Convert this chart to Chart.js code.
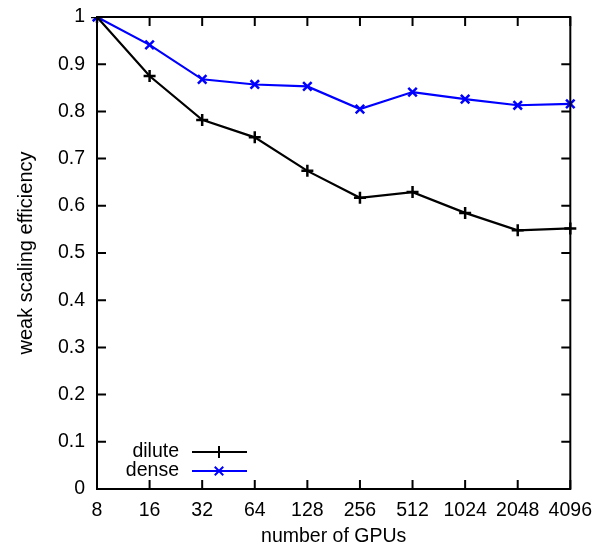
<!DOCTYPE html>
<html>
<head>
<meta charset="utf-8">
<script src="https://cdn.jsdelivr.net/npm/chart.js@4"></script>
<style>
  body { margin: 0; background: #fff; }
  #wrap { width: 594px; height: 546px; }
</style>
</head>
<body>
<div id="wrap"><canvas id="c" width="594" height="546"></canvas></div>
<script>
const gpus = ["8", "16", "32", "64", "128", "256", "512", "1024", "2048", "4096"];
const dilute = [1.0, 0.875, 0.782, 0.745, 0.674, 0.617, 0.629, 0.585, 0.548, 0.552];
const dense = [1.0, 0.941, 0.868, 0.857, 0.853, 0.805, 0.841, 0.826, 0.813, 0.816];

const FONT = "'Liberation Sans', Arial, sans-serif";
const FS = 19.5;

// gnuplot style: box around plot, ticks pointing inward on all sides
const frame = {
  id: "frame",
  afterDraw(c) {
    const ctx = c.ctx, a = c.chartArea;
    const xs = c.scales.x, ys = c.scales.y;
    const len = 9;
    ctx.save();
    ctx.strokeStyle = "#000";
    ctx.lineWidth = 2;
    ctx.strokeRect(a.left, a.top, a.right - a.left, a.bottom - a.top);
    ctx.beginPath();
    ys.ticks.forEach(t => {
      const y = ys.getPixelForValue(t.value);
      ctx.moveTo(a.left, y); ctx.lineTo(a.left + len, y);
      ctx.moveTo(a.right, y); ctx.lineTo(a.right - len, y);
    });
    gpus.forEach((g, i) => {
      const x = xs.getPixelForValue(i);
      ctx.moveTo(x, a.bottom); ctx.lineTo(x, a.bottom - len);
      ctx.moveTo(x, a.top); ctx.lineTo(x, a.top + len);
    });
    ctx.stroke();
    ctx.restore();
  }
};

// key in the lower left, text right-aligned before the sample line
const key = {
  id: "key",
  afterDraw(c) {
    const ctx = c.ctx;
    const textRight = 179, x0 = 192, x1 = 247, xm = 219;
    const rows = [452, 471];
    ctx.save();
    ctx.font = FS + "px " + FONT;
    ctx.textAlign = "right";
    ctx.textBaseline = "middle";
    c.data.datasets.forEach((ds, i) => {
      const y = rows[i];
      ctx.fillStyle = "#000";
      ctx.fillText(ds.label, textRight, y);
      ctx.strokeStyle = ds.borderColor;
      ctx.lineWidth = 2;
      ctx.beginPath();
      ctx.moveTo(x0, y); ctx.lineTo(x1, y);
      ctx.stroke();
      Chart.helpers.drawPoint(ctx, {
        pointStyle: ds.pointStyle, radius: ds.pointRadius, borderWidth: 2.5
      }, xm, y);
    });
    ctx.restore();
  }
};

new Chart(document.getElementById("c"), {
  type: "line",
  data: {
    labels: gpus,
    datasets: [
      {
        label: "dilute", data: dilute,
        borderColor: "#000000", backgroundColor: "#000000",
        borderWidth: 2.2, pointStyle: "cross", pointRadius: 6,
        pointBorderWidth: 2.5, tension: 0
      },
      {
        label: "dense", data: dense,
        borderColor: "#0000ff", backgroundColor: "#0000ff",
        borderWidth: 2.2, pointStyle: "crossRot", pointRadius: 6,
        pointBorderWidth: 2.5, tension: 0
      }
    ]
  },
  options: {
    responsive: false,
    animation: false,
    layout: { padding: { top: 17, right: 23, left: 0, bottom: 0 } },
    plugins: { legend: { display: false }, tooltip: { enabled: false } },
    scales: {
      x: {
        offset: false,
        grid: { display: false },
        border: { display: false },
        ticks: { color: "#000", font: { size: FS, family: FONT }, padding: 2, maxRotation: 0, autoSkip: false },
        title: { display: true, text: "number of GPUs", color: "#000", font: { size: FS, family: FONT, lineHeight: 0.95 }, padding: { top: 10, bottom: 0 } },
        afterFit(s) { s.height = 57; }
      },
      y: {
        min: 0, max: 1,
        grid: { display: false },
        border: { display: false },
        ticks: {
          stepSize: 0.1, color: "#000", font: { size: FS, family: FONT }, padding: 4,
          callback: v => String(Math.round(v * 10) / 10)
        },
        title: { display: true, text: "weak scaling efficiency", color: "#000", font: { size: 20, family: FONT }, padding: { top: 14, bottom: 0 } },
        afterFit(s) { s.width = 97; }
      }
    }
  },
  plugins: [frame, key]
});
</script>
</body>
</html>
